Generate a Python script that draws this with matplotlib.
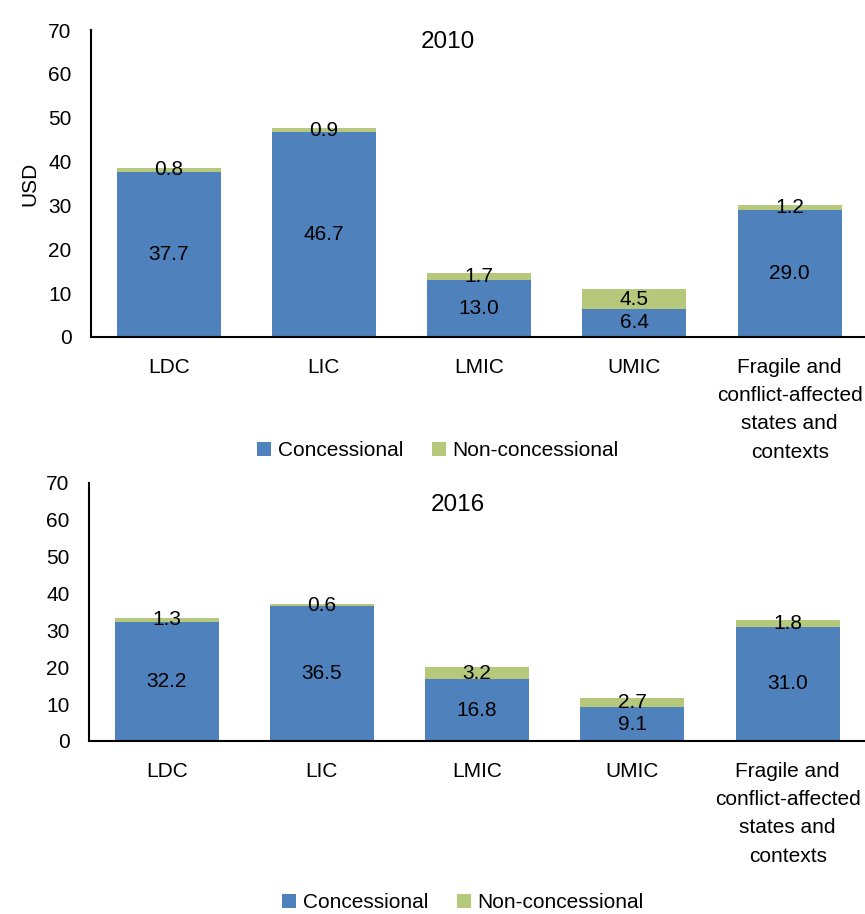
import matplotlib
matplotlib.use("Agg")
import matplotlib.pyplot as plt
from matplotlib.patches import Patch

plt.rcParams['font.family'] = ['Liberation Sans', 'DejaVu Sans']

categories = ["LDC", "LIC", "LMIC", "UMIC", "Fragile and\nconflict-affected\nstates and\ncontexts"]
conc_2010 = [37.7, 46.7, 13.0, 6.4, 29.0]
nonconc_2010 = [0.8, 0.9, 1.7, 4.5, 1.2]
conc_2016 = [32.2, 36.5, 16.8, 9.1, 31.0]
nonconc_2016 = [1.3, 0.6, 3.2, 2.7, 1.8]
series_names = ["Concessional", "Non-concessional"]
yticks = [0, 10, 20, 30, 40, 50, 60, 70]

BLUE = "#4F81BD"
GREEN = "#B5C87C"
FS = 15

W, H = 865, 914
fig = plt.figure(figsize=(W / 100, H / 100), dpi=100)

def make_ax(left_px, top_px, bottom_px):
    x0 = left_px / W
    w = 5 * 155.25 / W
    y0 = (H - bottom_px) / H
    h = (bottom_px - top_px) / H
    return fig.add_axes([x0, y0, w, h])

def draw(ax, conc, nonconc, title, title_x, title_y, ylabel=None):
    x = list(range(len(categories)))
    ax.bar(x, conc, width=0.67, color=BLUE, edgecolor='none')
    ax.bar(x, nonconc, width=0.67, bottom=conc, color=GREEN, edgecolor='none')
    for i in x:
        ax.text(i, conc[i] / 2, f"{conc[i]:.1f}", ha='center', va='center', fontsize=FS)
        ax.text(i, conc[i] + nonconc[i] / 2, f"{nonconc[i]:.1f}", ha='center', va='center', fontsize=FS)
    ax.set_xlim(-0.5, 4.5)
    ax.set_ylim(0, 70)
    ax.set_yticks(yticks)
    ax.set_yticklabels([str(v) for v in yticks], fontsize=FS)
    ax.set_xticks(x)
    ax.set_xticklabels(categories, fontsize=FS, linespacing=1.62)
    ax.tick_params(axis='y', length=0, pad=14)
    ax.tick_params(axis='x', length=0, pad=15)
    for s in ['top', 'right']:
        ax.spines[s].set_visible(False)
    for s in ['left', 'bottom']:
        ax.spines[s].set_linewidth(1.5)
    fig.text(title_x / W, 1 - title_y / H, title, ha='center', va='center', fontsize=17.5)
    if ylabel:
        ax.set_ylabel(ylabel, fontsize=FS, labelpad=6)

ax1 = make_ax(91, 30, 337)
draw(ax1, conc_2010, nonconc_2010, "2010", 448, 42, ylabel="USD")
ax2 = make_ax(89, 483, 741)
draw(ax2, conc_2016, nonconc_2016, "2016", 458, 505)

handles = [Patch(facecolor=BLUE, edgecolor='none'), Patch(facecolor=GREEN, edgecolor='none')]
for (cx, cy) in [(438, 451), (463, 903)]:
    fig.legend(handles, series_names, loc='center', bbox_to_anchor=(cx / W, 1 - cy / H),
               ncol=2, frameon=False, fontsize=FS, handlelength=0.67, handleheight=0.67,
               handletextpad=0.3, columnspacing=1.4)

fig.savefig("out.png", dpi=100)
